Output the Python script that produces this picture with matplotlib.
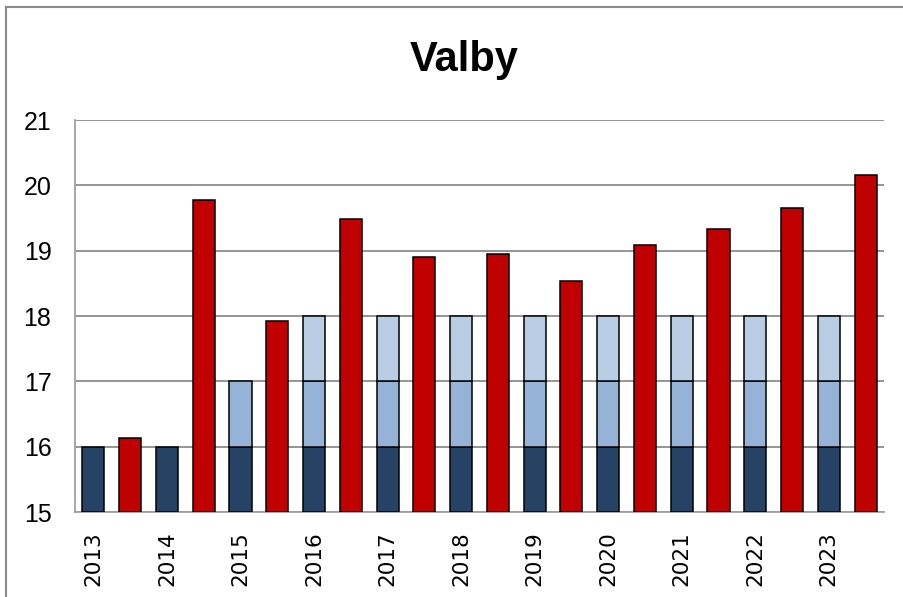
import matplotlib
matplotlib.use("Agg")
import matplotlib.pyplot as plt
from matplotlib.lines import Line2D
import numpy as np

years = ["2013", "2014", "2015", "2016", "2017", "2018", "2019", "2020", "2021", "2022", "2023"]
base = 15
# stacked blue segments (heights above 15)
seg_dark = [1, 1, 1, 1, 1, 1, 1, 1, 1, 1, 1]
seg_mid = [0, 0, 1, 1, 1, 1, 1, 1, 1, 1, 1]
seg_light = [0, 0, 0, 1, 1, 1, 1, 1, 1, 1, 1]
red_vals = [16.13, 19.77, 17.93, 19.49, 18.91, 18.95, 18.53, 19.08, 19.33, 19.66, 20.16]

c_dark = "#264264"
c_mid = "#95B3D7"
c_light = "#B9CDE5"
c_red = "#C00000"

fig = plt.figure(figsize=(9.04, 5.97), dpi=100)
ax = fig.add_axes([75/904, 1-512/597, (884-75)/904, (512-120)/597])

n = len(years)
xb = np.arange(n) * 2
xr = xb + 1
w = 0.6
ekw = dict(edgecolor="black", linewidth=1.1, zorder=3)

def draw(xs, bottoms, heights, color):
    xs = np.asarray(xs); b = np.asarray(bottoms, float); h = np.asarray(heights, float)
    m = h > 0
    ax.bar(xs[m], h[m], w, bottom=b[m], color=color, **ekw)

d = np.array(seg_dark, float); mi = np.array(seg_mid, float); li = np.array(seg_light, float)
draw(xb, base + 0*d, d, c_dark)
draw(xb, base + d, mi, c_mid)
draw(xb, base + d + mi, li, c_light)
draw(xr, [base]*n, np.array(red_vals) - base, c_red)

ax.set_xlim(-0.5, 2*n - 0.5)
ax.set_ylim(15, 21)
ax.set_yticks(range(15, 22))
ax.set_xticks(xb)
ax.set_xticklabels(years, rotation=90, fontsize=15.5, family="DejaVu Sans")
for lab in ax.get_yticklabels():
    lab.set_fontsize(18)
    lab.set_family("Liberation Sans")
ax.tick_params(axis="both", length=0)
ax.tick_params(axis="y", pad=17)
ax.tick_params(axis="x", pad=14)
ax.yaxis.grid(True, color="#8c8c8c", linewidth=1.3, zorder=0)
ax.set_axisbelow(True)
for s in ["top", "right"]:
    ax.spines[s].set_visible(False)
for s in ["left", "bottom"]:
    ax.spines[s].set_color("#a0a0a0")
    ax.spines[s].set_linewidth(1.3)

fig.text(464/904, 1-60/597, "Valby", ha="center", va="center", fontsize=30,
         fontweight="bold", family="Liberation Sans")

# outer chart border (left and top)
fig.add_artist(Line2D([6/904, 6/904], [0, 1-7/597], color="#8a8a8a", linewidth=1.5, transform=fig.transFigure))
fig.add_artist(Line2D([6/904, 1], [1-7/597, 1-7/597], color="#8a8a8a", linewidth=1.5, transform=fig.transFigure))

fig.savefig("out.png", dpi=100)
